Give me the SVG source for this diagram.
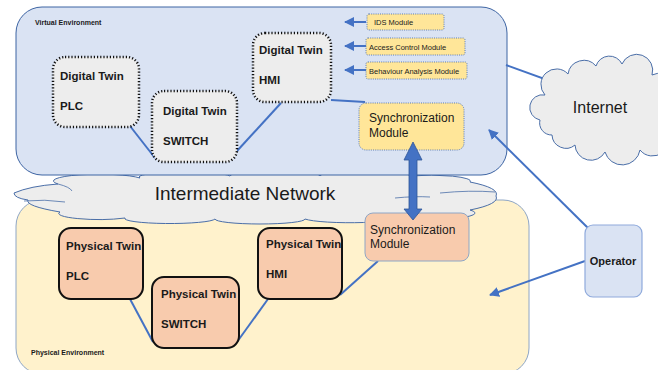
<svg xmlns="http://www.w3.org/2000/svg" width="658" height="370" viewBox="0 0 658 370">
<defs>
<style>
text{font-family:"Liberation Sans",Arial,sans-serif;fill:#1a1a1a}
.b{font-weight:bold}
.dt{fill:#ededed;stroke:#111;stroke-width:2.5;stroke-dasharray:1.2 2}
.pt{fill:#f8cbad;stroke:#111;stroke-width:2}
.mod{fill:#ffe699;stroke:#5b7bb0;stroke-width:1;stroke-dasharray:1 1.2}
.ln{stroke:#4472c4;stroke-width:2;fill:none}
.ar{stroke:#4472c4;stroke-width:2;fill:none;marker-end:url(#ah)}
.cloud{fill:#ededed;stroke:#4a6ea8;stroke-width:1}
</style>
<marker id="ah" viewBox="0 0 10 10" refX="9" refY="5" markerWidth="5" markerHeight="5" orient="auto-start-reverse" markerUnits="strokeWidth">
<path d="M0,0 L10,5 L0,10 z" fill="#4472c4"/>
</marker>
</defs>
<rect width="658" height="370" fill="#ffffff"/>

<g id="physical-environment">
<rect x="16" y="200" width="513" height="174" rx="26" fill="#fff2cc" stroke="#8ea6c6" stroke-width="1"/>
<text x="31" y="355" font-size="7" class="b">Physical Environment</text>
</g>

<g id="intermediate-network">
<path class="cloud" d="M14,193 Q30,186 58,184 A40,6 0 0 1 140,178 A45,5 0 0 1 230,176 A45,5 0 0 1 320,176 A45,5 0 0 1 410,176 A40,6 0 0 1 470,182 Q500,188 496,196 Q500,204 470,210 A40,6 0 0 1 395,216 A45,5 0 0 1 305,219 A45,5 0 0 1 215,219 A45,5 0 0 1 125,218 A40,6 0 0 1 60,212 Q25,206 28,200 Q14,198 14,193 Z"/>
<path d="M24,201 Q45,199 65,202 M395,198 Q415,196 430,197 M440,193 Q470,190 495,192 M58,184 Q70,187 72,191" fill="none" stroke="#4a6ea8" stroke-width="0.8"/>
<text x="245" y="200" font-size="19" text-anchor="middle">Intermediate Network</text>
</g>

<g id="virtual-environment">
<rect x="16" y="7" width="491" height="168" rx="26" fill="#dae3f3" stroke="#3d64a3" stroke-width="1"/>
<text x="35" y="25" font-size="7" class="b">Virtual Environment</text>
</g>

<g id="connectors">
<line class="ln" x1="130" y1="126" x2="155" y2="158"/>
<line class="ln" x1="237" y1="151" x2="281" y2="103"/>
<line class="ln" x1="331" y1="100" x2="365" y2="102"/>
<line class="ln" x1="130" y1="299" x2="153" y2="342"/>
<line class="ln" x1="237" y1="342" x2="268" y2="299"/>
<line class="ln" x1="340" y1="295" x2="378" y2="261"/>
<line class="ar" x1="366" y1="22" x2="345" y2="22"/>
<line class="ar" x1="366" y1="46" x2="345" y2="46"/>
<line class="ar" x1="366" y1="70" x2="345" y2="70"/>
<line class="ar" x1="506" y1="65" x2="575" y2="90"/>
<line class="ar" x1="589" y1="229" x2="489" y2="130"/>
<line class="ar" x1="585" y1="261" x2="490" y2="295"/>
</g>

<g id="dt-plc">
<rect class="dt" x="53" y="57" width="86" height="70" rx="12"/>
<text x="60" y="80" font-size="11.5" class="b">Digital Twin</text>
<text x="60" y="110" font-size="11.5" class="b">PLC</text>
</g>
<g id="dt-switch">
<rect class="dt" x="152" y="91" width="85" height="71" rx="12"/>
<text x="163" y="115" font-size="11.5" class="b">Digital Twin</text>
<text x="163" y="145" font-size="11.5" class="b">SWITCH</text>
</g>
<g id="dt-hmi">
<rect class="dt" x="253" y="33" width="78" height="69" rx="12"/>
<text x="259" y="54" font-size="11.5" class="b">Digital Twin</text>
<text x="259" y="84" font-size="11.5" class="b">HMI</text>
</g>

<g id="ids-module">
<rect class="mod" x="367" y="14" width="77" height="16" rx="2"/>
<text x="374" y="25" font-size="7.5">IDS  Module</text>
</g>
<g id="access-control-module">
<rect class="mod" x="366" y="38" width="99" height="17" rx="2"/>
<text x="369" y="49.5" font-size="7.5">Access Control  Module</text>
</g>
<g id="behaviour-analysis-module">
<rect class="mod" x="366" y="62" width="101" height="17" rx="2"/>
<text x="369" y="73.5" font-size="7.5">Behaviour Analysis Module</text>
</g>

<g id="sync-virtual">
<rect class="mod" x="359" y="103" width="105" height="47" rx="7"/>
<text x="369" y="122" font-size="12">Synchronization</text>
<text x="369" y="137" font-size="12">Module</text>
</g>

<g id="pt-plc">
<rect class="pt" x="59" y="228" width="84" height="71" rx="12"/>
<text x="66" y="250" font-size="11.5" class="b">Physical Twin</text>
<text x="66" y="280" font-size="11.5" class="b">PLC</text>
</g>
<g id="pt-switch">
<rect class="pt" x="152" y="277" width="87" height="71" rx="12"/>
<text x="161" y="298" font-size="11.5" class="b">Physical Twin</text>
<text x="161" y="328" font-size="11.5" class="b">SWITCH</text>
</g>
<g id="pt-hmi">
<rect class="pt" x="258" y="228" width="84" height="71" rx="12"/>
<text x="266" y="248" font-size="11.5" class="b">Physical Twin</text>
<text x="266" y="278" font-size="11.5" class="b">HMI</text>
</g>

<g id="sync-physical">
<rect x="365" y="213" width="104" height="48" rx="8" fill="#f8cbad" stroke="#8ea6c6" stroke-width="1"/>
<text x="370" y="234" font-size="12">Synchronization</text>
<text x="370" y="248" font-size="12">Module</text>
</g>

<g id="internet">
<path class="cloud" d="M540,120 A12,12 0 0 1 545,95 A15,15 0 0 1 568,74 A16,16 0 0 1 596,66 A14,14 0 0 1 622,64 A16,16 0 0 1 652,75 A14,14 0 0 1 665,100 L665,130 A16,16 0 0 1 640,150 A18,18 0 0 1 605,152 A16,16 0 0 1 575,145 A14,14 0 0 1 552,135 A12,12 0 0 1 540,120 Z"/>
<text x="600" y="113" font-size="16" text-anchor="middle">Internet</text>
</g>

<g id="operator">
<rect x="585" y="225" width="57" height="72" rx="8" fill="#dae3f3" stroke="#8faadc" stroke-width="1.2"/>
<text x="613" y="265" font-size="11" class="b" text-anchor="middle">Operator</text>
</g>

<g id="sync-link">
<polygon points="413,142 422,160 417,160 417,209 422,209 413,220 404,209 409,209 409,160 404,160" fill="#4472c4" stroke="#2f5597" stroke-width="0.8"/>
</g>
</svg>
